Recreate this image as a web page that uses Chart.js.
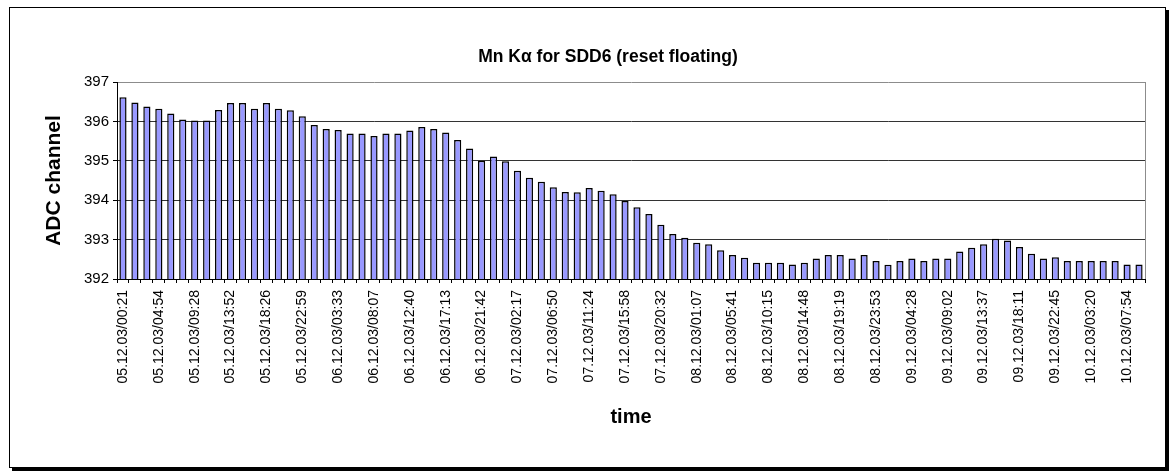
<!DOCTYPE html>
<html>
<head>
<meta charset="utf-8">
<title>Mn K alpha for SDD6</title>
<script src="https://cdn.jsdelivr.net/npm/chart.js@4/dist/chart.umd.min.js"></script>
<style>
  html, body { margin: 0; padding: 0; background: #fff; }
  #chartCanvas { position: absolute; left: 0; top: 0; }
  #frame {
    position: absolute; left: 9px; top: 7px; width: 1155px; height: 459px;
    border: 1px solid #000; box-shadow: 3px 3px 0 #000; pointer-events: none;
  }
</style>
</head>
<body>
<canvas id="chartCanvas" width="1173" height="473"></canvas>
<div id="frame"></div>
<script>
// --- DATA ---
// ADC channel of the Mn K-alpha peak, one bar per measurement
const adcValues = [
  396.61, 396.48, 396.38, 396.32, 396.20, 396.05, 396.02, 396.02, 396.29, 396.47,
  396.47, 396.32, 396.47, 396.32, 396.28, 396.13, 395.91, 395.81, 395.78, 395.69,
  395.69, 395.63, 395.69, 395.69, 395.77, 395.86, 395.81, 395.72, 395.53, 395.31,
  395.00, 395.11, 394.99, 394.75, 394.57, 394.47, 394.33, 394.21, 394.20, 394.31,
  394.24, 394.15, 393.98, 393.82, 393.65, 393.38, 393.14, 393.05, 392.92, 392.88,
  392.73, 392.61, 392.54, 392.41, 392.41, 392.41, 392.37, 392.41, 392.52, 392.61,
  392.61, 392.52, 392.61, 392.46, 392.36, 392.46, 392.52, 392.46, 392.52, 392.52,
  392.70, 392.79, 392.88, 393.02, 392.98, 392.81, 392.64, 392.52, 392.55, 392.46,
  392.46, 392.46, 392.46, 392.46, 392.37, 392.37
];

// only every third bar carries a time label
const timeLabels = [
  "05.12.03/00:21", "05.12.03/04:54", "05.12.03/09:28", "05.12.03/13:52", "05.12.03/18:26",
  "05.12.03/22:59", "06.12.03/03:33", "06.12.03/08:07", "06.12.03/12:40", "06.12.03/17:13",
  "06.12.03/21:42", "07.12.03/02:17", "07.12.03/06:50", "07.12.03/11:24", "07.12.03/15:58",
  "07.12.03/20:32", "08.12.03/01:07", "08.12.03/05:41", "08.12.03/10:15", "08.12.03/14:48",
  "08.12.03/19:19", "08.12.03/23:53", "09.12.03/04:28", "09.12.03/09:02", "09.12.03/13:37",
  "09.12.03/18:11", "09.12.03/22:45", "10.12.03/03:20", "10.12.03/07:54"
];
const labelEvery = 3;

const yMin = 392;
const yMax = 397;

// build one category per bar, blank where no label is shown
const categories = adcValues.map((v, i) =>
  (i % labelEvery === 0 && timeLabels[i / labelEvery]) ? timeLabels[i / labelEvery] : "");

// --- CHART ---
const FONT = "'Liberation Sans', Arial, sans-serif";
const PAD_LEFT = 71; // shifts the chart title to where Excel put it

// grey border on the right side of the plot area (Excel style)
const plotFrame = {
  id: 'plotFrame',
  afterDraw(chart) {
    const { ctx, chartArea: a } = chart;
    ctx.save();
    ctx.strokeStyle = '#8c8c8c';
    ctx.lineWidth = 1;
    ctx.beginPath();
    ctx.moveTo(a.right + 0.5, a.top);
    ctx.lineTo(a.right + 0.5, a.bottom);
    ctx.stroke();
    ctx.restore();
  }
};

const ctx = document.getElementById('chartCanvas').getContext('2d');
new Chart(ctx, {
  type: 'bar',
  data: {
    labels: categories,
    datasets: [{
      data: adcValues,
      backgroundColor: '#9999ff',
      borderColor: '#000',
      borderWidth: 1.5,
      barPercentage: 0.6,
      categoryPercentage: 1.0
    }]
  },
  options: {
    responsive: false,
    animation: false,
    devicePixelRatio: 1,
    layout: { padding: { left: PAD_LEFT, right: 28, top: 0, bottom: 0 } },
    plugins: {
      legend: { display: false },
      tooltip: { enabled: false },
      title: {
        display: true,
        text: 'Mn K\u03b1 for SDD6 (reset floating)',
        color: '#000',
        font: { family: FONT, size: 17.5, weight: 'bold' },
        padding: { top: 46.5, bottom: 14.5 }
      }
    },
    scales: {
      x: {
        offset: true,
        afterFit: s => { s.height = 194; },
        grid: {
          display: true,
          offset: true,
          drawOnChartArea: false,
          drawTicks: true,
          tickLength: 4,
          tickColor: '#000'
        },
        border: { display: true, color: '#000', width: 1 },
        ticks: {
          autoSkip: false,
          maxRotation: 90,
          minRotation: 90,
          padding: 7,
          color: '#000',
          font: { family: FONT, size: 14 }
        },
        title: {
          display: true,
          text: 'time',
          color: '#000',
          font: { family: FONT, size: 20, weight: 'bold' },
          padding: { top: 0, bottom: 44 }
        }
      },
      y: {
        min: yMin,
        max: yMax,
        afterFit: s => { s.width = 117 - PAD_LEFT; },
        grid: {
          color: c => (c.tick && c.tick.value === yMax) ? '#8c8c8c' : '#333',
          tickColor: '#000',
          tickLength: 4,
          lineWidth: 1
        },
        border: { display: true, color: '#000', width: 1 },
        ticks: {
          stepSize: 1,
          padding: 4,
          color: '#000',
          font: { family: FONT, size: 15 }
        },
        title: {
          display: true,
          text: 'ADC channel',
          color: '#000',
          font: { family: FONT, size: 21, weight: 'bold' },
          padding: { top: 54 - PAD_LEFT - 12.6, bottom: 0 }
        }
      }
    }
  },
  plugins: [plotFrame]
});
</script>
</body>
</html>
